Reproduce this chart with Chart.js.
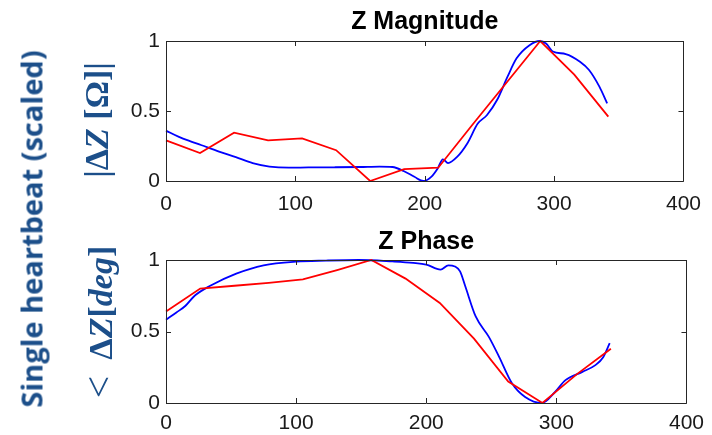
<!DOCTYPE html>
<html>
<head>
<meta charset="utf-8">
<script src="https://cdn.jsdelivr.net/npm/chart.js@4.4.0/dist/chart.umd.min.js"></script>
<style>
  body { margin: 0; background: #fff; }
  #wrap { position: relative; width: 712px; height: 435px; overflow: hidden; }
  canvas { position: absolute; left: 0; }
  .lab { position: absolute; white-space: nowrap; color: #1c4f8a;
         transform: translate(-50%, -50%) rotate(-90deg); }
  #main { left: 31px; top: 229px; font: bold 29px "Open Sans", sans-serif; }
  .math { font-family: "Liberation Serif", serif; font-weight: bold; font-size: 34px; }
  #magLab { left: 97px; top: 120px; }
  #phLab { left: 98px; top: 322px; }
  #phLab .lt { font-weight: normal; font-size: 40px; margin-right: 16px; }
</style>
</head>
<body>
<div id="wrap">
  <canvas id="magChart" width="712" height="215" style="top:0"></canvas>
  <canvas id="phChart" width="712" height="220" style="top:215px"></canvas>
  <div class="lab" id="main">Single heartbeat (scaled)</div>
  <div class="lab math" id="magLab">|Δ<i>Z</i> [Ω]|</div>
  <div class="lab math" id="phLab"><span class="lt">&lt;</span>Δ<i>Z</i>[<i>deg</i>]</div>
</div>
<script>
// red: coarse samples, shared x
const redX = [0, 26.3, 52.6, 78.9, 105.2, 131.5, 157.8, 184.1, 210.4, 236.7, 263.0, 289.3, 315.6, 341.9];
const magRed = [0.29, 0.2, 0.345, 0.29, 0.305, 0.22, 0, 0.085, 0.095, 0.4, 0.7, 1, 0.76, 0.46];
const phRed = [0.64, 0.8, 0.82, 0.84, 0.865, 0.93, 1, 0.87, 0.7, 0.45, 0.15, 0, 0.2, 0.38];

// blue: fine curve
const magBlueX = [0, 10, 20, 27, 41, 54, 67, 80, 95, 110, 130, 150, 165, 175, 184, 192, 199, 205, 210, 214, 218, 225, 233, 241, 248, 256, 264, 271, 281, 289, 294, 299, 309, 320, 327, 335, 341];
const magBlue = [0.36, 0.315, 0.28, 0.257, 0.21, 0.17, 0.128, 0.103, 0.095, 0.097, 0.098, 0.1, 0.103, 0.1, 0.07, 0.03, 0, 0.03, 0.09, 0.155, 0.128, 0.172, 0.27, 0.41, 0.47, 0.58, 0.745, 0.876, 0.97, 1, 0.98, 0.925, 0.907, 0.852, 0.793, 0.674, 0.555];
const phBlueX = [0, 8, 15, 22, 34, 54, 75, 100, 123, 148, 174, 190, 200, 211, 217, 222, 226, 230, 238, 248, 256, 266, 276, 289, 299, 307, 320, 330, 336, 341];
const phBlue = [0.582, 0.633, 0.68, 0.75, 0.82, 0.905, 0.963, 0.989, 0.996, 1, 0.99, 0.98, 0.968, 0.933, 0.963, 0.955, 0.92, 0.816, 0.605, 0.464, 0.323, 0.136, 0.042, 0, 0.077, 0.16, 0.218, 0.265, 0.32, 0.418];

const xTicks = [0, 100, 200, 300, 400];
const yTicks = [0, 0.5, 1];

const axisColor = '#262626';

function pts(xs, ys) {
    return xs.map((x, i) => ({ x: x, y: ys[i] }));
}

// box + inward ticks, MATLAB style
const framePlugin = {
    id: 'frame',
    afterDatasetsDraw(chart) {
        const { ctx, chartArea: a, scales } = chart;
        ctx.save();
        ctx.strokeStyle = axisColor;
        ctx.lineWidth = 1;
        ctx.beginPath();
        ctx.rect(Math.round(a.left) + 0.5, Math.round(a.top) + 0.5,
                 Math.round(a.right - a.left), Math.round(a.bottom - a.top));
        xTicks.forEach(v => {
            const px = Math.round(scales.x.getPixelForValue(v)) + 0.5;
            ctx.moveTo(px, a.bottom); ctx.lineTo(px, a.bottom - 5);
            ctx.moveTo(px, a.top); ctx.lineTo(px, a.top + 5);
        });
        yTicks.forEach(v => {
            const py = Math.round(scales.y.getPixelForValue(v)) + 0.5;
            ctx.moveTo(a.left, py); ctx.lineTo(a.left + 5, py);
            ctx.moveTo(a.right, py); ctx.lineTo(a.right - 5, py);
        });
        ctx.stroke();

        // title centred over the plot box
        const t = chart.options.plugins.boxTitle;
        ctx.fillStyle = '#000';
        ctx.font = 'bold 25px "Liberation Sans", Arial';
        ctx.textAlign = 'center';
        ctx.textBaseline = 'alphabetic';
        ctx.fillText(t.text, (a.left + a.right) / 2, t.baseline);
        ctx.restore();
    }
};

function makeChart(id, title, redY, blueX, blueY, top, baseline, xHeight, xPad) {
    return new Chart(document.getElementById(id), {
        type: 'line',
        data: {
            datasets: [
                {
                    data: pts(redX, redY),
                    borderColor: '#ff0000',
                    borderWidth: 1.8,
                    pointRadius: 0,
                    tension: 0,
                    clip: 4
                },
                {
                    data: pts(blueX, blueY),
                    borderColor: '#0000ff',
                    borderWidth: 1.8,
                    pointRadius: 0,
                    cubicInterpolationMode: 'monotone',
                    clip: 4
                }
            ]
        },
        options: {
            responsive: false,
            animation: false,
            layout: { padding: { left: 0, right: 23, bottom: 0, top: top } },
            plugins: {
                legend: { display: false },
                tooltip: { enabled: false },
                title: { display: false },
                boxTitle: { text: title, baseline: baseline }
            },
            scales: {
                x: {
                    type: 'linear',
                    min: 0, max: 400,
                    grid: { display: false, drawTicks: false },
                    border: { display: false },
                    afterBuildTicks: s => { s.ticks = xTicks.map(v => ({ value: v })); },
                    afterFit: s => { s.height = xHeight; },
                    ticks: { color: '#1a1a1a', padding: xPad, maxRotation: 0,
                             font: { family: 'Liberation Sans, Arial', size: 21 } }
                },
                y: {
                    min: 0, max: 1,
                    grid: { display: false, drawTicks: false },
                    border: { display: false },
                    afterBuildTicks: s => { s.ticks = yTicks.map(v => ({ value: v })); },
                    afterFit: s => { s.width = 166; },
                    ticks: { color: '#1a1a1a', padding: 6,
                             callback: v => String(v),
                             font: { family: 'Liberation Sans, Arial', size: 21 } }
                }
            }
        },
        plugins: [framePlugin]
    });
}

makeChart('magChart', 'Z Magnitude', magRed, magBlueX, magBlue, 41, 28.5, 34, 11);
makeChart('phChart', 'Z Phase', phRed, phBlueX, phBlue, 45, 33.5, 32, 8);
</script>
</body>
</html>
